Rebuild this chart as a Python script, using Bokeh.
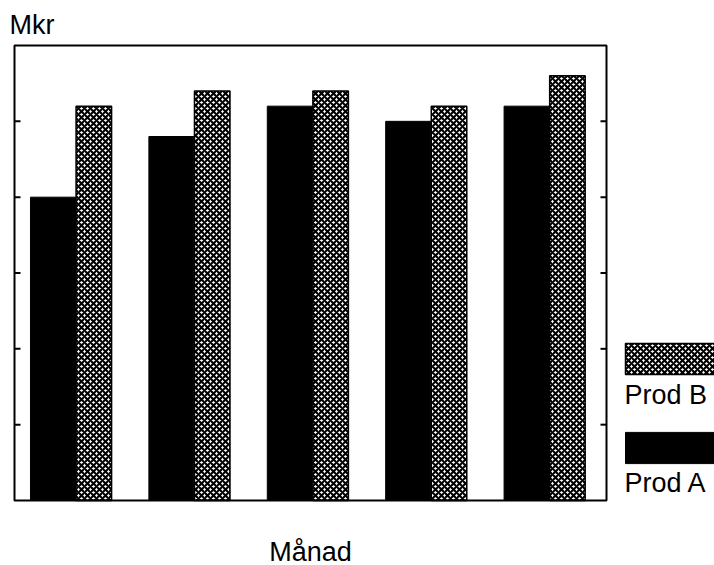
import math
from bokeh.plotting import figure
from bokeh.models import (Range1d, Legend, LegendItem, Label, BoxAnnotation,
                          ColumnDataSource)
from bokeh.embed import file_html
from bokeh.resources import INLINE

# ---- data ----
months = ["1", "2", "3", "4", "5"]
prod_a = [4.0, 4.8, 5.2, 5.0, 5.2]
prod_b = [5.2, 5.4, 5.4, 5.2, 5.6]
y_ticks = [1, 2, 3, 4, 5]
y_max = 6
series_names = ["Prod A", "Prod B"]

FONT = "Liberation Sans"

# ---- layout constants (pixels) ----
W, H = 714, 565
FL, FT, FW, FH = 14, 45, 592, 455      # chart box inside the canvas
n = len(months)
px_x = FW / n
px_y = FH / y_max

x_range = Range1d(-FL / px_x, (W - FL) / px_x)
y_range = Range1d(-(H - FT - FH) / px_y, y_max + FT / px_y)

centers = [i + 0.5 for i in range(n)]
source = ColumnDataSource(dict(
    month=months,
    xa=[c - 0.175 for c in centers],
    xb=[c + 0.17 for c in centers],
    a=prod_a, b=prod_b))

p = figure(width=W, height=H, x_range=x_range, y_range=y_range,
           x_axis_type=None, y_axis_type=None,
           output_backend="svg", toolbar_location=None,
           min_border=0, min_border_left=0, min_border_right=0,
           min_border_top=0, min_border_bottom=0)
p.outline_line_color = None
p.background_fill_color = "white"
p.border_fill_color = "white"
p.grid.visible = False

ra = p.vbar(x="xa", top="a", width=0.38, source=source,
            fill_color="black", line_color="black", line_width=1)
rb = p.vbar(x="xb", top="b", width=0.30, source=source,
            fill_color="white", line_color="black", line_width=1.5,
            hatch_pattern="diagonal_cross", hatch_color="black",
            hatch_scale=6, hatch_weight=2.1)

# chart box
p.add_layout(BoxAnnotation(left=0, right=n, bottom=0, top=y_max,
                           fill_alpha=0, line_color="black", line_alpha=1,
                           line_width=2))

# inward ticks on both sides
tick_src = ColumnDataSource(dict(y=y_ticks, xl=[0] * len(y_ticks),
                                 xr=[n] * len(y_ticks)))
p.ray(x="xl", y="y", length=6, length_units="screen", angle=0,
      source=tick_src, line_color="black", line_width=2)
p.ray(x="xr", y="y", length=6, length_units="screen", angle=math.pi,
      source=tick_src, line_color="black", line_width=2)

# legend swatches
legend = Legend(items=[LegendItem(label=" ", renderers=[rb]),
                       LegendItem(label=" ", renderers=[ra])],
                location=(613, 98), orientation="vertical",
                glyph_width=120, glyph_height=39, spacing=50,
                padding=0, margin=0, label_text_font_size="1px",
                label_height=1, label_width=1, label_standoff=0,
                border_line_color=None, background_fill_alpha=0)
p.add_layout(legend, "center")

def lab(text, x, y, align="left"):
    p.add_layout(Label(x=x, y=y, x_units="screen", y_units="screen", text=text,
                       text_font=FONT, text_font_size="27px", text_color="black",
                       text_align=align, text_baseline="alphabetic"))

lab("Mkr", 9, 541)
lab("Månad", FL + FW / 2, 14, "center")
lab(series_names[1], 624, 171)
lab(series_names[0], 624, 83)

open("out.html", "w").write(file_html(p, INLINE))
